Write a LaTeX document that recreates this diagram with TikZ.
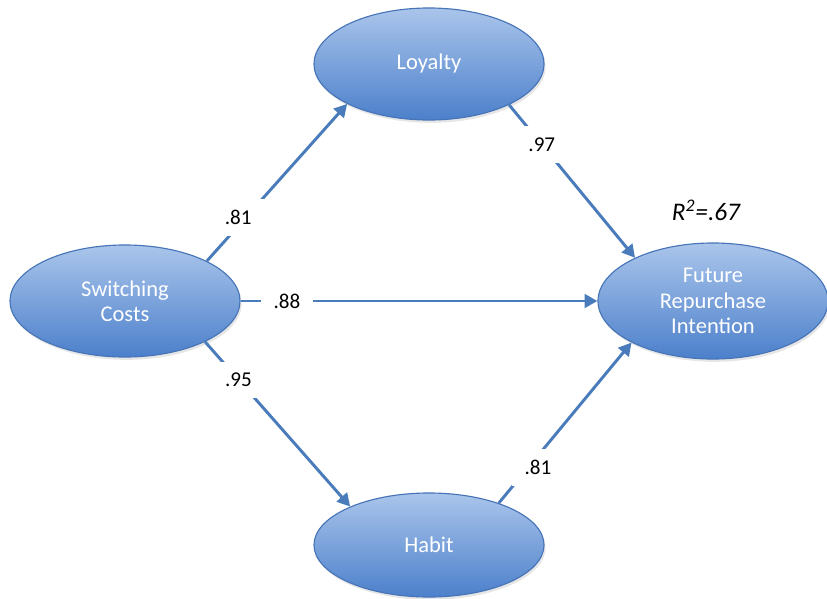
\documentclass[tikz,border=0pt]{standalone}
\usepackage{fontspec}
\setmainfont{Carlito}
\usetikzlibrary{shapes.geometric, arrows.meta, shadows, positioning}

\definecolor{ovaltop}{RGB}{170,197,235}
\definecolor{ovalbot}{RGB}{76,128,203}
\definecolor{ovalline}{RGB}{70,116,182}
\definecolor{linkblue}{RGB}{74,124,188}

\begin{document}
\begin{tikzpicture}[x=0.025cm, y=-0.025cm,
		construct/.style={ellipse, draw=ovalline, line width=0.8pt, top color=ovaltop, bottom color=ovalbot,
			minimum width=5.75cm, minimum height=2.8cm, inner sep=0pt, align=center, text=white,
			font=\fontsize{16}{18}\selectfont,
			drop shadow={opacity=0.2, shadow xshift=0.04cm, shadow yshift=-0.07cm}},
		link/.style={line width=2.1pt, draw=linkblue, -{Triangle[length=0.32cm, width=0.34cm]}},
		coef/.style={fill=white, inner xsep=9pt, inner ysep=8pt, font=\fontsize{15}{17}\selectfont}]
		\useasboundingbox (0,0) rectangle (827,598);
		
		\node[construct] (loy) at (429,64) {Loyalty};
		\node[construct] (sc) at (125,301) {Switching\\Costs};
		\node[construct, minimum height=2.6cm] (hab) at (429,545) {Habit};
		\node[construct, minimum height=2.9cm] (fri) at (713,301) {Future\\Repurchase\\Intention};
		
		\node[font=\fontsize{18}{20}\selectfont\itshape] (r2) at (706,210) {R\textsuperscript{2}=.67};
		
		\draw[link] (sc.26) -- node[coef, pos=0.28, xshift=-0.2cm] (c1) {.81} (loy.206);
		\draw[link] (sc.east) -- node[coef, pos=0.13] (c2) {.88} (fri.west);
		\draw[link] (sc.-27) -- node[coef, pos=0.23] (c3) {.95} (hab.154);
		\draw[link] (loy.-27) -- node[coef, pos=0.26] (c4) {.97} (fri.151);
		\draw[link] (hab.31) -- node[coef, pos=0.22, xshift=0.25cm] (c5) {.81} (fri.207);
		
	\end{tikzpicture}
\end{document}
